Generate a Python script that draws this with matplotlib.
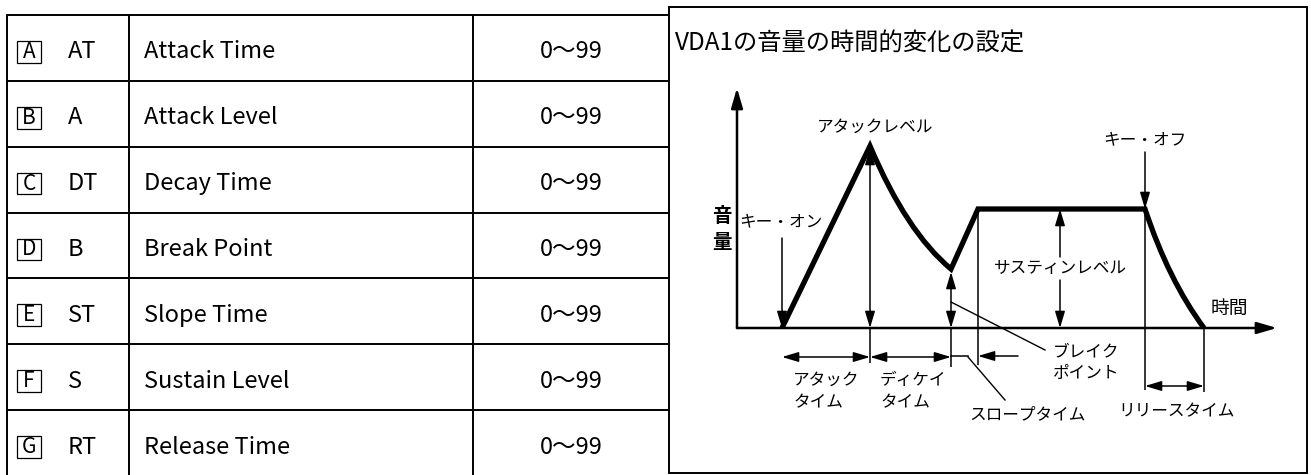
import numpy as np
import matplotlib.pyplot as plt
from matplotlib.patches import Rectangle, PathPatch
from matplotlib.path import Path

plt.rcParams['font.family'] = ['Noto Sans CJK JP', 'DejaVu Sans']

# ---- table contents ----
letters = ['A', 'B', 'C', 'D', 'E', 'F', 'G']
abbrevs = ['AT', 'A', 'DT', 'B', 'ST', 'S', 'RT']
names = ['Attack Time', 'Attack Level', 'Decay Time', 'Break Point',
         'Slope Time', 'Sustain Level', 'Release Time']
ranges = ['0〜99'] * 7

# ---- envelope (drawing units: time / level) ----
key_on = 45
attack_time = 88
decay_time = 81
slope_time = 27
key_off = 408
release_time = 59
attack_level = 182
break_level = 59
sustain_level = 119

t_peak = key_on + attack_time
t_break = t_peak + decay_time
t_sus = t_break + slope_time
t_end = key_off + release_time

W, H = 1311, 475
fig = plt.figure(figsize=(W / 100, H / 100), dpi=100)

# ================= table =================
tab = fig.add_axes([7 / W, -1 / H, 662 / W, 461 / H])
n = len(letters)
tab.set_xlim(0, 662)
tab.set_ylim(n, 0)
tab.set_xticks([])
tab.set_yticks([])
for s in tab.spines.values():
    s.set_linewidth(1.4)
tab.spines['right'].set_visible(False)
for i in range(1, n):
    tab.axhline(i, color='k', lw=1.4)
tab.axvline(122, color='k', lw=1.4)
tab.axvline(466, color='k', lw=1.4)

for i in range(n):
    yc = i + 0.56
    tab.add_patch(Rectangle((10, yc - 0.165), 24, 0.33, fill=False, ec='k', lw=0.9))
    tab.text(22, yc, letters[i], fontsize=15, ha='center', va='center')
    tab.text(61, yc, abbrevs[i], fontsize=17, ha='left', va='center')
    tab.text(137, yc, names[i], fontsize=17, ha='left', va='center')
    tab.text(564, yc, ranges[i], fontsize=17, ha='center', va='center')

# ================= envelope diagram =================
dg = fig.add_axes([669 / W, 2 / H, 638 / W, 466 / H])
dg.set_xlim(-68, 570)
dg.set_ylim(-145, 321)
dg.set_xticks([])
dg.set_yticks([])
for s in dg.spines.values():
    s.set_linewidth(1.4)

dg.text(-62, 284, 'VDA1の音量の時間的変化の設定', fontsize=17.5, ha='left', va='center')


def arrow(x0, y0, x1, y1, style='-|>', lw=1.1, hl=1.0, hw=0.3):
    dg.annotate('', xy=(x1, y1), xytext=(x0, y0),
                arrowprops=dict(arrowstyle=f'{style},head_length={hl},head_width={hw}',
                                lw=lw, color='k', shrinkA=0, shrinkB=0))


def vline(x, y0, y1, lw=1.1):
    dg.plot([x, x], [y0, y1], color='k', lw=lw, solid_capstyle='butt')


# axes
arrow(0, 0, 0, 240, lw=1.8, hl=1.2, hw=0.35)
arrow(0, 0, 540, 0, lw=1.8, hl=1.2, hw=0.35)

# envelope shape
verts = [(key_on, 0), (t_peak, attack_level),
         (t_peak + 0.45 * decay_time, break_level + 0.3 * (attack_level - break_level)),
         (t_break, break_level),
         (t_sus, sustain_level), (key_off, sustain_level),
         (key_off + 0.4 * release_time, 0.4 * sustain_level),
         (t_end, 0)]
codes = [Path.MOVETO, Path.LINETO, Path.CURVE3, Path.CURVE3,
         Path.LINETO, Path.LINETO, Path.CURVE3, Path.CURVE3]
dg.add_patch(PathPatch(Path(verts, codes), fc='none', ec='k', lw=3.8,
                       joinstyle='miter', capstyle='butt'))

# markers
dim_y = -29
arrow(key_on, 90, key_on, 0)
arrow(t_peak, 0, t_peak, attack_level - 2, style='<|-|>')
vline(t_peak, -35, 0)
arrow(t_break, 0, t_break, break_level - 3, style='<|-|>')
vline(t_break, -39, 0)
vline(t_sus, -37, sustain_level)
s_x = 323
arrow(s_x, 71, s_x, sustain_level)
arrow(s_x, 48, s_x, 0)
arrow(key_off, 176, key_off, sustain_level)
vline(key_off, -62, sustain_level)
vline(t_end, -64, 0)

arrow(key_on, dim_y, t_peak, dim_y, style='<|-|>')
arrow(t_peak, dim_y, t_break, dim_y, style='<|-|>')
dg.plot([t_break, t_break + 17], [dim_y + 1, dim_y + 1], color='k', lw=1.1)
arrow(t_sus + 40, dim_y + 1, t_sus, dim_y + 1)
arrow(key_off, -58, t_end, -58, style='<|-|>')

# leaders
dg.plot([t_break + 17, t_break + 54], [dim_y, -72], color='k', lw=1.0)
dg.plot([t_break, t_break + 94], [26, -22], color='k', lw=1.0)

# labels
fs = 12
dg.text(t_peak + 5, 201, 'アタックレベル', fontsize=fs, ha='center', va='center')
dg.text(key_off, 188, 'キー・オフ', fontsize=fs, ha='center', va='center')
dg.text(44, 106, 'キー・オン', fontsize=fs, ha='center', va='center')
dg.text(-15, 112, '音', fontsize=14, fontweight='bold', ha='center', va='center')
dg.text(-15, 85, '量', fontsize=14, fontweight='bold', ha='center', va='center')
dg.text(492, 20, '時間', fontsize=13.5, ha='center', va='center')
dg.text(s_x, 60, 'サスティンレベル', fontsize=fs, ha='center', va='center')
dg.text(291, -87, 'スロープタイム', fontsize=fs, ha='center', va='center')
dg.text(316, -24, 'ブレイク', fontsize=fs, ha='left', va='center')
dg.text(316, -45, 'ポイント', fontsize=fs, ha='left', va='center')
dg.text(56, -52, 'アタック', fontsize=fs, ha='left', va='center')
dg.text(56, -75, 'タイム', fontsize=fs, ha='left', va='center')
dg.text(143, -52, 'ディケイ', fontsize=fs, ha='left', va='center')
dg.text(143, -75, 'タイム', fontsize=fs, ha='left', va='center')
dg.text(440, -84, 'リリースタイム', fontsize=fs, ha='center', va='center')

fig.savefig('out.png', dpi=100)
